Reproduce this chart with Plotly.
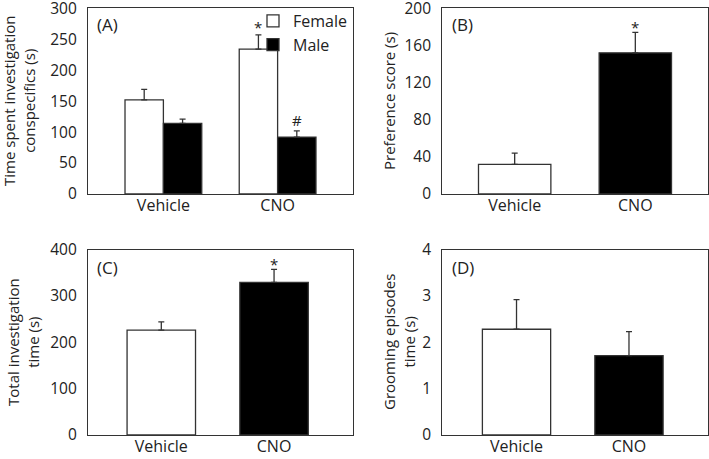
import plotly.graph_objects as go

# ---- data ----
groups = ["Vehicle", "CNO"]
a_female = [152, 234]
a_female_err = [17, 23]
a_male = [114, 92]
a_male_err = [7, 10]
b_pref = [32, 152]
b_pref_err = [12, 22]
c_total = [226, 329]
c_total_err = [18, 28]
d_groom = [2.28, 1.71]
d_groom_err = [0.64, 0.52]

FONT = "Open Sans"
LINE = "#333333"
TXT = "#222222"
W, H = 709, 459

fig = go.Figure()
xpos = [0, 1]

def err(vals):
    return dict(type="data", symmetric=False, array=vals, arrayminus=[0] * len(vals),
                color=LINE, thickness=1.3, width=3)

# Panel A
fig.add_trace(go.Bar(x=xpos, y=a_female, name="Female", width=0.336, offset=-0.336,
                     marker=dict(color="white", line=dict(color=LINE, width=1.3)),
                     error_y=err(a_female_err), xaxis="x", yaxis="y", showlegend=True))
fig.add_trace(go.Bar(x=xpos, y=a_male, name="Male", width=0.336, offset=0,
                     marker=dict(color="black", line=dict(color=LINE, width=1.3)),
                     error_y=err(a_male_err), xaxis="x", yaxis="y", showlegend=True))
# Panel B
fig.add_trace(go.Bar(x=xpos, y=b_pref, width=0.6,
                     marker=dict(color=["white", "black"], line=dict(color=LINE, width=1.3)),
                     error_y=err(b_pref_err), xaxis="x2", yaxis="y2", showlegend=False))
# Panel C
fig.add_trace(go.Bar(x=xpos, y=c_total, width=0.607,
                     marker=dict(color=["white", "black"], line=dict(color=LINE, width=1.3)),
                     error_y=err(c_total_err), xaxis="x3", yaxis="y3", showlegend=False))
# Panel D
fig.add_trace(go.Bar(x=xpos, y=d_groom, width=0.607,
                     marker=dict(color=["white", "black"], line=dict(color=LINE, width=1.3)),
                     error_y=err(d_groom_err), xaxis="x4", yaxis="y4", showlegend=False))

def px_x(p):
    return p / W

def px_y(p):
    return 1 - p / H

xdom_l = [px_x(88), px_x(353)]
xdom_r = [px_x(442.3), px_x(707.7)]
ydom_t = [px_y(194), px_y(8.3)]
ydom_b = [px_y(435), px_y(249.5)]

def xaxis(dom, rng, anchor):
    return dict(domain=dom, range=rng, anchor=anchor, tickvals=xpos, ticktext=groups,
                showline=True, mirror=True, linecolor=LINE, linewidth=1.3,
                ticks="", ticklabelstandoff=-3,
                showgrid=False, zeroline=False, fixedrange=True, automargin=False,
                ticklabeloverflow="allow",
                tickfont=dict(family=FONT, size=16, color=TXT))

def yaxis(dom, rng, dtick, anchor):
    return dict(domain=dom, range=rng, dtick=dtick, anchor=anchor,
                showline=True, mirror=True, linecolor=LINE, linewidth=1.3,
                ticks="outside", ticklen=7, tickcolor="rgba(0,0,0,0)",
                showgrid=False, zeroline=False, fixedrange=True, automargin=False,
                ticklabeloverflow="allow",
                tickfont=dict(family=FONT, size=15.5, color=TXT))

annotations = []
def label(text, x, y):
    annotations.append(dict(text=text, xref="paper", yref="paper", x=px_x(x), y=px_y(y),
                            xanchor="left", yanchor="middle", showarrow=False,
                            font=dict(family=FONT, size=17, color=TXT)))

def ytitle(text, x, y):
    annotations.append(dict(text=text, xref="paper", yref="paper", x=px_x(x), y=px_y(y),
                            xanchor="center", yanchor="middle", showarrow=False, textangle=-90,
                            font=dict(family=FONT, size=15, color=TXT)))

def mark(text, xref, yref, x, y, shift):
    annotations.append(dict(text=text, xref=xref, yref=yref, x=x, y=y,
                            xanchor="center", yanchor="bottom", yshift=shift, showarrow=False,
                            font=dict(family=FONT, size=15, color=TXT)))

label("(A)", 95, 24)
label("(B)", 450, 25)
label("(C)", 95, 267)
label("(D)", 450, 267)

ytitle("Time spent investigation<br>conspecifics (s)", 19, 101)
ytitle("Preference score (s)", 389, 101)
ytitle("Total investigation<br>time (s)", 23, 342)
ytitle("Grooming episodes<br>time (s)", 399, 342)

mark("*", "x", "y", xpos[1] - 0.168, a_female[1] + a_female_err[1], -4)
mark("#", "x", "y", xpos[1] + 0.168, a_male[1] + a_male_err[1], -1)
mark("*", "x2", "y2", xpos[1], b_pref[1] + b_pref_err[1], -7)
mark("*", "x3", "y3", xpos[1], c_total[1] + c_total_err[1], -7)

fig.update_layout(
    width=W, height=H,
    margin=dict(l=0, r=0, t=0, b=0, autoexpand=False),
    paper_bgcolor="white", plot_bgcolor="white",
    barmode="group",
    font=dict(family=FONT, size=15, color=TXT),
    xaxis=xaxis(xdom_l, [-0.66, 1.66], "y"),
    yaxis=yaxis(ydom_t, [0, 300], 50, "x"),
    xaxis2=xaxis(xdom_r, [-0.6, 1.6], "y2"),
    yaxis2=yaxis(ydom_t, [0, 200], 40, "x2"),
    xaxis3=xaxis(xdom_l, [-0.65, 1.70], "y3"),
    yaxis3=yaxis(ydom_b, [0, 400], 100, "x3"),
    xaxis4=xaxis(xdom_r, [-0.66, 1.70], "y4"),
    yaxis4=yaxis(ydom_b, [0, 4], 1, "x4"),
    legend=dict(x=px_x(253), y=px_y(4), xanchor="left", yanchor="top",
                bgcolor="rgba(0,0,0,0)", font=dict(family=FONT, size=16, color=TXT),
                itemwidth=30, tracegroupgap=0),
    annotations=annotations,
)

fig.write_html("out.html", config={"displayModeBar": False},
               post_script="document.body.style.margin='0';document.body.style.padding='0';")
